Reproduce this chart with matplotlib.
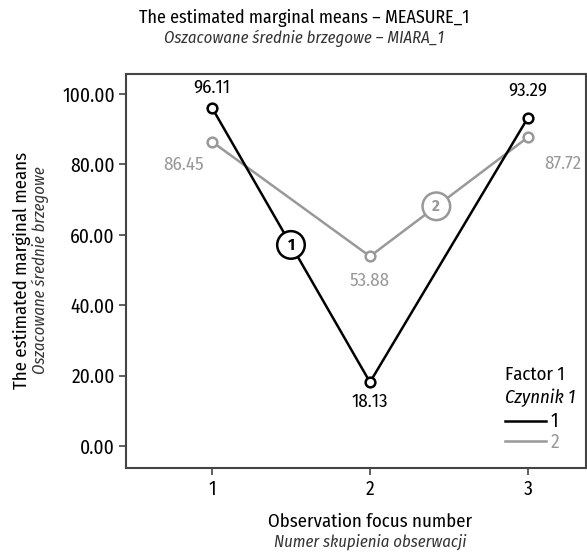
import matplotlib.pyplot as plt
from matplotlib.lines import Line2D

plt.rcParams['font.family'] = ['Fira Sans Condensed', 'Roboto Condensed', 'DejaVu Sans']

# data
focus = [1, 2, 3]
factor_1 = [96.11, 18.13, 93.29]
factor_2 = [86.45, 53.88, 87.72]
yticks = [0, 20, 40, 60, 80, 100]

BLACK = '#000000'
GRAY = '#999999'
FS = 13.5
IT = '#333333'

fig = plt.figure(figsize=(5.87, 5.54), dpi=100)
ax = fig.add_axes([126/587, 1-468/554, 460/587, 394/554])
ax.set_xlim(0.456, 3.367)
ax.set_ylim(-6.25, 105.68)

for ys, c in [(factor_2, GRAY), (factor_1, BLACK)]:
    ax.plot(focus, ys, color=c, lw=1.8, marker='o', ms=7, mfc='white', mec=c, mew=1.8, zorder=3)

# value labels
lab1 = [(0, 8, 'bottom', 'center'), (0, -8, 'top', 'center'), (0, 13, 'bottom', 'center')]
for x, y, (dx, dy, va, ha) in zip(focus, factor_1, lab1):
    ax.annotate(f'{y:.2f}', (x, y), xytext=(dx, dy), textcoords='offset points',
                va=va, ha=ha, fontsize=FS, color=BLACK)
lab2 = [(-6, -10, 'top', 'right'), (0, -11, 'top', 'center'), (12, -13, 'top', 'left')]
for x, y, (dx, dy, va, ha) in zip(focus, factor_2, lab2):
    ax.annotate(f'{y:.2f}', (x, y), xytext=(dx, dy), textcoords='offset points',
                va=va, ha=ha, fontsize=FS, color=GRAY)

# circled series numbers on the lines
for xs, ys, t, c, num, seg in [(focus, factor_1, 0.5, BLACK, '1', 0), (focus, factor_2, 0.42, GRAY, '2', 1)]:
    mx = xs[seg] + t * (xs[seg+1] - xs[seg])
    my = ys[seg] + t * (ys[seg+1] - ys[seg])
    ax.text(mx, my, num, ha='center', va='center', fontsize=12, fontweight='bold', color=c, zorder=5,
            bbox=dict(boxstyle='circle,pad=0.35', fc='white', ec=c, lw=1.8))

ax.set_xticks(focus)
ax.set_yticks(yticks)
ax.set_yticklabels([f'{v:.2f}' for v in yticks])
ax.tick_params(direction='out', length=5, width=1.2, color='#444444', labelsize=14, pad=3)
for s in ax.spines.values():
    s.set_color('#444444')
    s.set_linewidth(1.5)

# axis titles
fig.text(22/587, 1-270/554, 'The estimated marginal means', rotation=90, ha='center', va='center', fontsize=FS)
fig.text(40/587, 1-270/554, 'Oszacowane średnie brzegowe', rotation=90, ha='center', va='center',
         fontsize=12, style='italic', color=IT)
fig.text(370/587, 1-522/554, 'Observation focus number', ha='center', va='center', fontsize=FS)
fig.text(370/587, 1-542/554, 'Numer skupienia obserwacji', ha='center', va='center',
         fontsize=12, style='italic', color=IT)
fig.text(304/587, 1-18/554, 'The estimated marginal means – MEASURE_1', ha='center', va='center', fontsize=13)
fig.text(304/587, 1-38/554, 'Oszacowane średnie brzegowe – MIARA_1', ha='center', va='center',
         fontsize=12, style='italic', color=IT)

# legend
handles = [Line2D([], [], color=BLACK, lw=1.8), Line2D([], [], color=GRAY, lw=1.8)]
leg = ax.legend(handles, ['1', '2'], loc='lower left', bbox_to_anchor=((505-126)/460, (468-452)/394),
                frameon=False, handlelength=2.1, handletextpad=0.25, labelspacing=0.05, fontsize=14,
                borderpad=0, borderaxespad=0)
for txt, c in zip(leg.get_texts(), [BLACK, GRAY]):
    txt.set_color(c)
ax.text((505-126)/460, (468-375)/394, 'Factor 1', transform=ax.transAxes, fontsize=FS, va='center')
ax.text((505-126)/460, (468-398)/394, 'Czynnik 1', transform=ax.transAxes, fontsize=FS, va='center',
        style='italic')

fig.savefig('out.png', dpi=100)
